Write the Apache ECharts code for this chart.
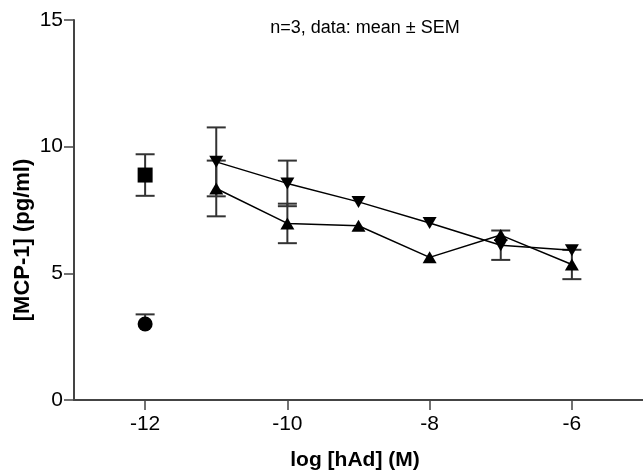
<!DOCTYPE html>
<html>
<head>
<meta charset="utf-8">
<script src="https://cdn.jsdelivr.net/npm/echarts@6/dist/echarts.min.js"></script>
<style>
  html, body { margin: 0; padding: 0; background: #fff; }
  #chart { width: 643px; height: 472px; }
</style>
</head>
<body>
<div id="chart"></div>
<script>
// log [hAd] (M) doses
const doseX = [-11, -10, -9, -8, -7, -6];
const controlX = [-12];

// MCP-1 concentrations (pg/ml), mean and SEM
const squareMean = [8.88];
const squareSem = [0.82];
const circleMean = [3.00];
const circleSemUp = [0.38];

const downMean = [9.40, 8.55, 7.82, 6.99, 6.11, 5.91];
const downSem = [1.36, 0.90, 0, 0, 0.58, 0];
const upMean = [8.35, 6.97, 6.88, 5.63, 6.51, 5.35];
const upSem = [1.10, 0.78, 0, 0, 0, 0.58];

const xTicks = [-12, -10, -8, -6];
const yTicks = [0, 5, 10, 15];

const FONT = 'Liberation Sans, Arial, sans-serif';
const INK = '#000';
const AXIS = '#444';

function pairs(xs, ys) {
  return xs.map((x, i) => [x, ys[i]]);
}
function bars(xs, means, up, down) {
  const out = [];
  xs.forEach((x, i) => {
    const u = up[i], d = down[i];
    if (u > 0 || d > 0) out.push([x, means[i] - d, means[i] + u, d > 0 ? 1 : 0]);
  });
  return out;
}

function errorBarItem(params, api) {
  const x = api.value(0);
  const lo = api.value(1);
  const hi = api.value(2);
  const hasLow = api.value(3) === 1;
  const top = api.coord([x, hi]);
  const bot = api.coord([x, lo]);
  const half = 9.5;
  const style = { stroke: '#333', lineWidth: 2, fill: null };
  const kids = [
    { type: 'line', shape: { x1: top[0], y1: top[1], x2: bot[0], y2: bot[1] }, style },
    { type: 'line', shape: { x1: top[0] - half, y1: top[1], x2: top[0] + half, y2: top[1] }, style }
  ];
  if (hasLow) {
    kids.push({ type: 'line', shape: { x1: bot[0] - half, y1: bot[1], x2: bot[0] + half, y2: bot[1] }, style });
  }
  return { type: 'group', children: kids };
}

const errData = []
  .concat(bars(controlX, squareMean, squareSem, squareSem))
  .concat(bars(controlX, circleMean, circleSemUp, [0]))
  .concat(bars(doseX, downMean, downSem, downSem))
  .concat(bars(doseX, upMean, upSem, upSem));

const chart = echarts.init(document.getElementById('chart'), null, { renderer: 'canvas' });

chart.setOption({
  animation: false,
  backgroundColor: '#fff',
  grid: { left: 74, right: 0, top: 20, bottom: 72, containLabel: false },
  xAxis: {
    type: 'value',
    min: -13,
    max: -5,
    splitLine: { show: false },
    axisLine: { show: true, onZero: false, lineStyle: { color: AXIS, width: 2 } },
    axisTick: { show: true, length: 10, inside: false, customValues: xTicks, lineStyle: { color: AXIS, width: 1.5 } },
    axisLabel: { customValues: xTicks, color: INK, fontFamily: FONT, fontSize: 21, margin: 14 }
  },
  yAxis: {
    type: 'value',
    min: 0,
    max: 15,
    interval: 5,
    splitLine: { show: false },
    axisLine: { show: true, onZero: false, lineStyle: { color: AXIS, width: 2 } },
    axisTick: { show: true, length: 10, inside: false, customValues: yTicks, lineStyle: { color: AXIS, width: 1.5 } },
    axisLabel: { customValues: yTicks, color: INK, fontFamily: FONT, fontSize: 21, margin: 11 }
  },
  graphic: [
    {
      type: 'text', x: 365, y: 28,
      style: { text: 'n=3, data: mean \u00b1 SEM', fill: INK, font: '18px ' + FONT, align: 'center', verticalAlign: 'middle' }
    },
    {
      type: 'text', x: 355, y: 460,
      style: { text: 'log [hAd] (M)', fill: INK, font: 'bold 21px ' + FONT, align: 'center', verticalAlign: 'middle' }
    },
    {
      type: 'text', x: 23, y: 240, rotation: Math.PI / 2,
      style: { text: '[MCP-1] (pg/ml)', fill: INK, font: 'bold 22px ' + FONT, align: 'center', verticalAlign: 'middle' }
    }
  ],
  series: [
    {
      type: 'custom',
      renderItem: errorBarItem,
      data: errData,
      z: 1,
      silent: true
    },
    {
      type: 'line',
      data: pairs(doseX, downMean),
      symbol: 'triangle',
      symbolRotate: 180,
      symbolSize: [14, 12],
      lineStyle: { color: '#000', width: 1.5 },
      itemStyle: { color: '#000', opacity: 1 },
      z: 3
    },
    {
      type: 'line',
      data: pairs(doseX, upMean),
      symbol: 'triangle',
      symbolSize: [14, 12],
      lineStyle: { color: '#000', width: 1.5 },
      itemStyle: { color: '#000', opacity: 1 },
      z: 3
    },
    {
      type: 'scatter',
      data: pairs(controlX, squareMean),
      symbol: 'rect',
      symbolSize: 15,
      itemStyle: { color: '#000', opacity: 1 },
      z: 3
    },
    {
      type: 'scatter',
      data: pairs(controlX, circleMean),
      symbol: 'circle',
      symbolSize: 15,
      itemStyle: { color: '#000', opacity: 1 },
      z: 3
    }
  ]
});
</script>
</body>
</html>
